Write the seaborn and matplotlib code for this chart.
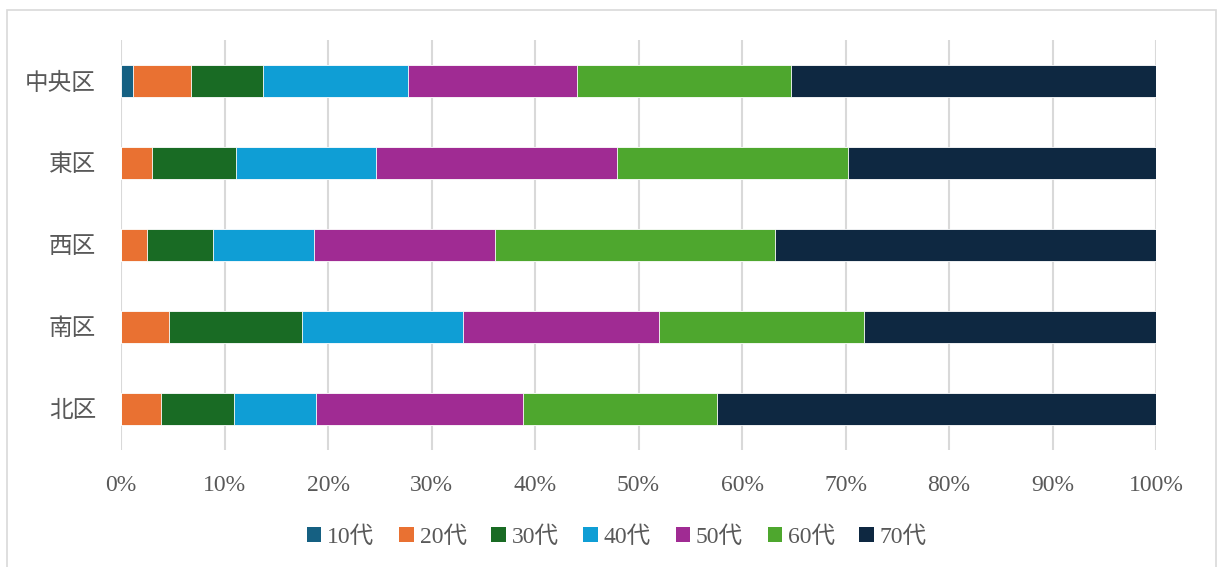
import numpy as np
import pandas as pd
import matplotlib.pyplot as plt
import seaborn as sns
from matplotlib.patches import Patch, Rectangle

# data (share of each age group in %)
districts = ['中央区', '東区', '西区', '南区', '北区']
age_groups = ['10代', '20代', '30代', '40代', '50代', '60代', '70代']
shares = {
    '10代': [1.2, 0.0, 0.0, 0.0, 0.0],
    '20代': [5.6, 3.0, 2.5, 4.6, 3.9],
    '30代': [6.9, 8.1, 6.4, 12.9, 7.0],
    '40代': [14.0, 13.5, 9.7, 15.5, 7.9],
    '50代': [16.4, 23.3, 17.5, 19.0, 20.0],
    '60代': [20.6, 22.3, 27.1, 19.8, 18.8],
    '70代': [35.3, 29.8, 36.8, 28.2, 42.4],
}
colors = ['#156082', '#E97132', '#196B24', '#0F9ED5', '#A02B93', '#4EA72E', '#0E2841']

df = pd.DataFrame(shares, index=districts)
pct = df.div(df.sum(axis=1), axis=0) * 100
cum = pct.cumsum(axis=1)

sns.set_theme(style='white')
fonts = ['Liberation Serif', 'Noto Sans CJK JP']
plt.rcParams['font.family'] = fonts

fig = plt.figure(figsize=(12.17, 5.67), dpi=100)
ax = fig.add_axes([121/1217, 1 - 450/567, (1156 - 121)/1217, 410/567])

# stacked bars: draw cumulative totals from the outermost layer inward
for grp, col in reversed(list(zip(age_groups, colors))):
    sns.barplot(x=cum[grp].values, y=districts, color=col, orient='h', saturation=1,
                width=0.4, edgecolor='white', linewidth=0.6, ax=ax, zorder=3)

ax.set_xlim(0, 100)
ax.set_ylim(4.5, -0.5)
ax.set_xticks(np.arange(0, 101, 10))
ax.set_xticklabels([f'{t}%' for t in range(0, 101, 10)])
ax.grid(axis='x', color='#d9d9d9', linewidth=1.5, zorder=0)
ax.grid(axis='y', visible=False)
for s in ax.spines.values():
    s.set_visible(False)
ax.tick_params(axis='both', length=0, labelsize=17, labelcolor='#595959')
ax.tick_params(axis='x', pad=18)
ax.tick_params(axis='y', pad=18)
ax.set_xlabel('')
ax.set_ylabel('')

handles = [Patch(facecolor=c, edgecolor='none') for c in colors]
fig.legend(handles, age_groups, loc='center', bbox_to_anchor=(617/1217, 1 - 537/567),
           ncol=7, frameon=False, fontsize=17, labelcolor='#595959',
           handlelength=0.6, handleheight=0.6, handletextpad=0.25, columnspacing=1.05)

# chart border
fig.patches.append(Rectangle((7/1217, -0.05), 1209/1217, 1.05 - 10/567,
                             transform=fig.transFigure, fill=False,
                             edgecolor='#d9d9d9', linewidth=1.2))

plt.savefig('out.png', dpi=100)
